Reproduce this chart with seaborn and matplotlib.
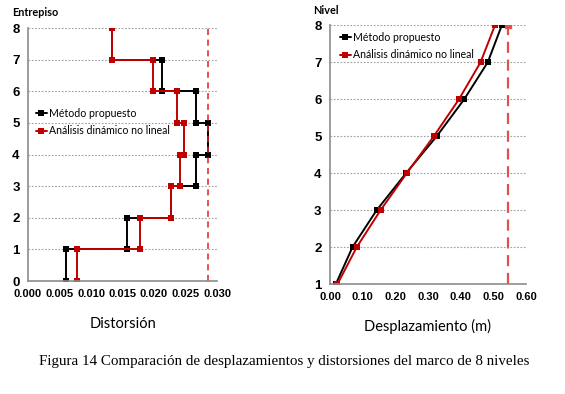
import matplotlib
matplotlib.use('Agg')
import matplotlib.pyplot as plt
import numpy as np
import pandas as pd
import seaborn as sns

# story drifts (stories 1..8)
stories = [1, 2, 3, 4, 5, 6, 7, 8]
drift_metodo = [0.0060, 0.0157, 0.0227, 0.0267, 0.0285, 0.0267, 0.0212, 0.0134]
drift_andnl = [0.0078, 0.0178, 0.0227, 0.0242, 0.0247, 0.0237, 0.0198, 0.0134]
drift_limit = 0.0285

# level displacements (levels 1..8)
niveles = [1, 2, 3, 4, 5, 6, 7, 8]
desp_metodo = [0.018, 0.069, 0.143, 0.233, 0.327, 0.411, 0.483, 0.526]
desp_andnl = [0.023, 0.082, 0.155, 0.235, 0.318, 0.395, 0.461, 0.505]
desp_limit = 0.545

lab_m = 'Método propuesto'
lab_a = 'Análisis dinámico no lineal'
black = '#000000'
red = '#c00000'


def steps(drifts, name):
    # each story drawn as a vertical segment between floors
    rows = []
    for s, d in zip(stories, drifts):
        rows.append({'x': d, 'y': s - 1, 'serie': name})
        rows.append({'x': d, 'y': s, 'serie': name})
    return rows


df_d = pd.DataFrame(steps(drift_metodo, lab_m) + steps(drift_andnl, lab_a))
df_n = pd.DataFrame(
    [{'x': x, 'y': n, 'serie': lab_m} for n, x in zip(niveles, desp_metodo)] +
    [{'x': x, 'y': n, 'serie': lab_a} for n, x in zip(niveles, desp_andnl)])

sns.set_style('white')
plt.rcParams['font.family'] = ['Liberation Sans', 'DejaVu Sans']
plt.rcParams['text.color'] = 'black'
plt.rcParams['xtick.color'] = 'black'
plt.rcParams['ytick.color'] = 'black'
plt.rcParams['axes.labelcolor'] = 'black'

fig = plt.figure(figsize=(5.65, 3.94), dpi=100)
ax1 = fig.add_axes([0.0496, 0.2868, 0.3345, 0.642])
ax2 = fig.add_axes([0.584, 0.279, 0.347, 0.657])

pal = {lab_m: black, lab_a: red}

sns.lineplot(data=df_d, x='x', y='y', hue='serie', palette=pal, sort=False,
             estimator=None, units='serie', marker='s', markersize=4.5,
             markeredgewidth=0, linewidth=1.4, ax=ax1)
ax1.axvline(drift_limit, color='#e02020', ls=(0, (4, 3)), lw=1.1)

sns.lineplot(data=df_n, x='x', y='y', hue='serie', palette=pal, sort=False,
             estimator=None, units='serie', marker='s', markersize=4.5,
             markeredgewidth=0, linewidth=1.4, ax=ax2)
ax2.plot([desp_limit, desp_limit], [1, 8], color='#e05050', ls=(0, (5, 3)),
         lw=1.6)
ax2.plot([desp_limit], [8], 's', color='#e05050', ms=5)

tickfont = {'family': 'Liberation Sans', 'weight': 'bold'}
labfont = {'family': 'Lato', 'size': 10.5}
legfont = {'family': 'Lato', 'size': 7.6}

ax1.set_xlim(0, 0.030)
ax1.set_ylim(0, 8)
ax1.set_xticks(np.arange(0, 0.0301, 0.005))
ax1.set_xticklabels([f'{v:.3f}' for v in np.arange(0, 0.0301, 0.005)],
                    fontdict=tickfont, fontsize=8)
ax1.set_yticks(range(0, 9))
ax1.set_yticklabels([str(i) for i in range(0, 9)], fontdict=tickfont,
                    fontsize=9.5)
ax1.set_xlabel('Distorsión', fontdict=labfont, labelpad=13)
ax1.set_ylabel('')

ax2.set_xlim(0, 0.60)
ax2.set_ylim(1, 8)
ax2.set_xticks(np.arange(0, 0.601, 0.1))
ax2.set_xticklabels([f'{v:.2f}' for v in np.arange(0, 0.601, 0.1)],
                    fontdict=tickfont, fontsize=8)
ax2.set_yticks(range(1, 9))
ax2.set_yticklabels([str(i) for i in range(1, 9)], fontdict=tickfont,
                    fontsize=9.5)
ax2.set_xlabel('Desplazamiento (m)', fontdict=labfont, labelpad=12)
ax2.set_ylabel('')

for ax in (ax1, ax2):
    ax.grid(False)
    ax.yaxis.grid(True, color='#a0a0a0', ls=(0, (1.5, 1.5)), lw=0.8)
    ax.set_axisbelow(True)
    for s in ('top', 'right'):
        ax.spines[s].set_visible(False)
    for s in ('left', 'bottom'):
        ax.spines[s].set_color('#8c8c8c')
        ax.spines[s].set_linewidth(1.2)
    ax.tick_params(length=0, pad=6)

leg1 = ax1.legend(loc='upper left', bbox_to_anchor=(0.02, 0.70), frameon=False,
                  handlelength=1.0, handletextpad=0.2, labelspacing=0.6,
                  borderaxespad=0, prop=legfont)
leg1.set_zorder(10)
leg2 = ax2.legend(loc='upper left', bbox_to_anchor=(0.03, 0.99), frameon=False,
                  handlelength=1.0, handletextpad=0.2, labelspacing=0.6,
                  borderaxespad=0, prop=legfont)
leg2.set_zorder(10)

fig.text(12 / 565, 1 - 12 / 394, 'Entrepiso', family='Lato', weight='bold',
         fontsize=7.8, va='center', ha='left')
fig.text(313 / 565, 1 - 11 / 394, 'Nivel', family='Lato', weight='bold',
         fontsize=7.8, va='center', ha='left')
fig.text(0.503, 1 - 362 / 394,
         'Figura 14 Comparación de desplazamientos y distorsiones del marco de 8 niveles',
         family='Liberation Serif', fontsize=10.8, ha='center', va='center',
         color='black')

fig.savefig('out.png', dpi=100)
